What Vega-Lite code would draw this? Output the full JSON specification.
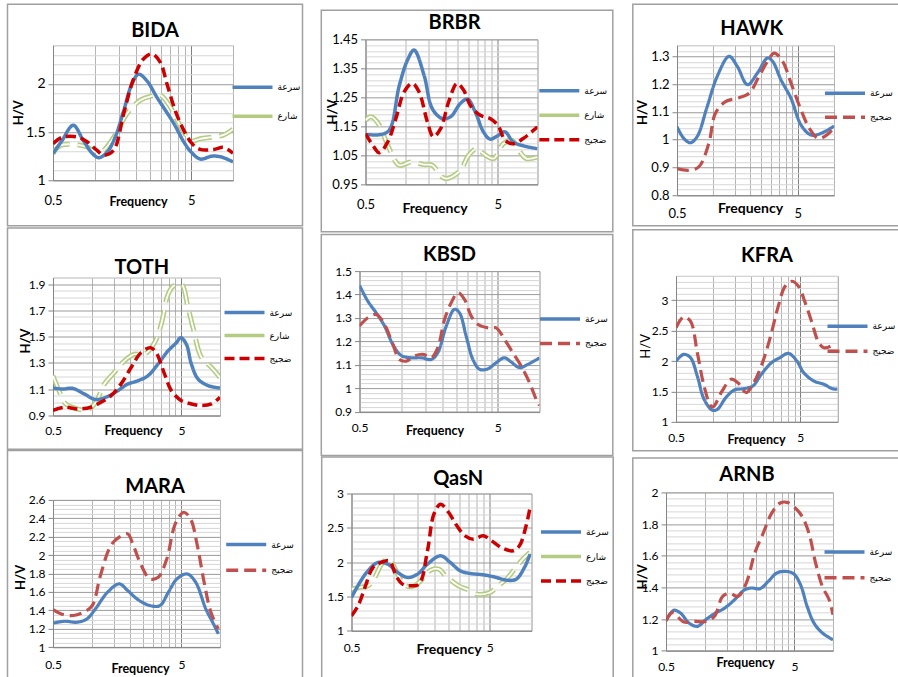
{
"$schema":"https://vega.github.io/schema/vega-lite/v6.json",
"padding":{"left":7,"top":3,"right":0,"bottom":0},
"config":{
 "font":"Lato",
 "view":{"stroke":"#c0c0c0"},
 "axis":{"domainColor":"#868686","labelFont":"Lato","labelFontSize":12,"labelColor":"#000000","titleFont":"Lato","titleFontSize":13,"titleFontWeight":"bold","titleColor":"#000000"},
 "title":{"font":"Lato","fontSize":20,"fontWeight":"bold","color":"#000000","frame":"group","anchor":"middle"},
 "legend":{"symbolType":"stroke","symbolSize":1600,"symbolStrokeWidth":3.5,"labelFont":"DejaVu Sans","labelFontSize":9,"labelColor":"#000000","labelOffset":3,"padding":0,"orient":"none","clipHeight":12,"gradientVerticalMaxLength":2000,"gradientVerticalMinLength":10}
},
"datasets":{
"BIDA":[
{"s":"سرعة","f":0.5,"hv":1.276},{"s":"سرعة","f":0.58,"hv":1.41},{"s":"سرعة","f":0.7,"hv":1.57},{"s":"سرعة","f":0.83,"hv":1.41},{"s":"سرعة","f":0.96,"hv":1.28},{"s":"سرعة","f":1.07,"hv":1.234},{"s":"سرعة","f":1.23,"hv":1.29},{"s":"سرعة","f":1.41,"hv":1.45},{"s":"سرعة","f":1.62,"hv":1.72},{"s":"سرعة","f":1.86,"hv":2.0},{"s":"سرعة","f":2.08,"hv":2.1},{"s":"سرعة","f":2.39,"hv":2.03},{"s":"سرعة","f":2.82,"hv":1.86},{"s":"سرعة","f":3.73,"hv":1.59},{"s":"سرعة","f":4.4,"hv":1.4},{"s":"سرعة","f":5,"hv":1.29},{"s":"سرعة","f":5.8,"hv":1.22},{"s":"سرعة","f":7.05,"hv":1.25},{"s":"سرعة","f":8.3,"hv":1.24},{"s":"سرعة","f":10,"hv":1.19},
{"s":"ضجيج","f":0.5,"hv":1.38},{"s":"ضجيج","f":0.58,"hv":1.445},{"s":"ضجيج","f":0.745,"hv":1.45},{"s":"ضجيج","f":0.88,"hv":1.4},{"s":"ضجيج","f":1.04,"hv":1.31},{"s":"ضجيج","f":1.16,"hv":1.26},{"s":"ضجيج","f":1.37,"hv":1.31},{"s":"ضجيج","f":1.62,"hv":1.69},{"s":"ضجيج","f":1.91,"hv":2.05},{"s":"ضجيج","f":2.26,"hv":2.26},{"s":"ضجيج","f":2.6,"hv":2.31},{"s":"ضجيج","f":2.99,"hv":2.22},{"s":"ضجيج","f":3.33,"hv":2.0},{"s":"ضجيج","f":3.83,"hv":1.72},{"s":"ضجيج","f":4.4,"hv":1.52},{"s":"ضجيج","f":5.06,"hv":1.38},{"s":"ضجيج","f":5.8,"hv":1.32},{"s":"ضجيج","f":7.25,"hv":1.32},{"s":"ضجيج","f":8.57,"hv":1.34},{"s":"ضجيج","f":10,"hv":1.28},
{"s":"شارع","f":0.5,"hv":1.28},{"s":"شارع","f":0.565,"hv":1.36},{"s":"شارع","f":0.72,"hv":1.37},{"s":"شارع","f":0.88,"hv":1.345},{"s":"شارع","f":1.04,"hv":1.29},{"s":"شارع","f":1.16,"hv":1.31},{"s":"شارع","f":1.45,"hv":1.5},{"s":"شارع","f":1.71,"hv":1.69},{"s":"شارع","f":2.14,"hv":1.83},{"s":"شارع","f":2.53,"hv":1.87},{"s":"شارع","f":3.0,"hv":1.88},{"s":"شارع","f":3.52,"hv":1.76},{"s":"شارع","f":4.28,"hv":1.53},{"s":"شارع","f":5,"hv":1.41},{"s":"شارع","f":5.8,"hv":1.43},{"s":"شارع","f":7.25,"hv":1.45},{"s":"شارع","f":8.57,"hv":1.47},{"s":"شارع","f":10,"hv":1.53}
],
"BRBR":[
{"s":"سرعة","f":0.5,"hv":1.122},{"s":"سرعة","f":0.655,"hv":1.122},{"s":"سرعة","f":0.757,"hv":1.137},{"s":"سرعة","f":0.9,"hv":1.29},{"s":"سرعة","f":1.04,"hv":1.379},{"s":"سرعة","f":1.165,"hv":1.413},{"s":"سرعة","f":1.385,"hv":1.327},{"s":"سرعة","f":1.6,"hv":1.211},{"s":"سرعة","f":1.9,"hv":1.177},{"s":"سرعة","f":2.2,"hv":1.183},{"s":"سرعة","f":2.61,"hv":1.229},{"s":"سرعة","f":2.96,"hv":1.244},{"s":"سرعة","f":3.38,"hv":1.2},{"s":"سرعة","f":3.9,"hv":1.131},{"s":"سرعة","f":4.38,"hv":1.106},{"s":"سرعة","f":5.05,"hv":1.119},{"s":"سرعة","f":5.67,"hv":1.131},{"s":"سرعة","f":6.55,"hv":1.096},{"s":"سرعة","f":7.79,"hv":1.083},{"s":"سرعة","f":10,"hv":1.073},
{"s":"ضجيج","f":0.5,"hv":1.125},{"s":"ضجيج","f":0.567,"hv":1.085},{"s":"ضجيج","f":0.637,"hv":1.059},{"s":"ضجيج","f":0.736,"hv":1.096},{"s":"ضجيج","f":0.849,"hv":1.177},{"s":"ضجيج","f":0.98,"hv":1.269},{"s":"ضجيج","f":1.13,"hv":1.298},{"s":"ضجيج","f":1.27,"hv":1.269},{"s":"ضجيج","f":1.47,"hv":1.165},{"s":"ضجيج","f":1.63,"hv":1.114},{"s":"ضجيج","f":1.85,"hv":1.142},{"s":"ضجيج","f":2.13,"hv":1.235},{"s":"ضجيج","f":2.46,"hv":1.298},{"s":"ضجيج","f":2.76,"hv":1.275},{"s":"ضجيج","f":3.1,"hv":1.223},{"s":"ضجيج","f":3.69,"hv":1.188},{"s":"ضجيج","f":4.38,"hv":1.177},{"s":"ضجيج","f":5.05,"hv":1.152},{"s":"ضجيج","f":5.67,"hv":1.102},{"s":"ضجيج","f":6.55,"hv":1.09},{"s":"ضجيج","f":7.79,"hv":1.108},{"s":"ضجيج","f":10,"hv":1.148},
{"s":"شارع","f":0.5,"hv":1.171},{"s":"شارع","f":0.552,"hv":1.183},{"s":"شارع","f":0.637,"hv":1.154},{"s":"شارع","f":0.736,"hv":1.085},{"s":"شارع","f":0.9,"hv":1.016},{"s":"شارع","f":1.1,"hv":1.027},{"s":"شارع","f":1.385,"hv":1.018},{"s":"شارع","f":1.6,"hv":1.016},{"s":"شارع","f":1.9,"hv":0.975},{"s":"شارع","f":2.07,"hv":0.97},{"s":"شارع","f":2.61,"hv":0.998},{"s":"شارع","f":3.01,"hv":1.05},{"s":"شارع","f":3.48,"hv":1.073},{"s":"شارع","f":3.9,"hv":1.056},{"s":"شارع","f":4.65,"hv":1.039},{"s":"شارع","f":5.51,"hv":1.09},{"s":"شارع","f":6.37,"hv":1.102},{"s":"شارع","f":7.35,"hv":1.062},{"s":"شارع","f":8.25,"hv":1.039},{"s":"شارع","f":10,"hv":1.044}
],
"HAWK":[
{"s":"سرعة","f":0.5,"hv":1.047},{"s":"سرعة","f":0.568,"hv":1.005},{"s":"سرعة","f":0.645,"hv":0.989},{"s":"سرعة","f":0.734,"hv":1.011},{"s":"سرعة","f":0.889,"hv":1.119},{"s":"سرعة","f":1.077,"hv":1.228},{"s":"سرعة","f":1.35,"hv":1.3},{"s":"سرعة","f":1.58,"hv":1.264},{"s":"سرعة","f":1.92,"hv":1.198},{"s":"سرعة","f":2.32,"hv":1.24},{"s":"سرعة","f":2.81,"hv":1.294},{"s":"سرعة","f":3.1,"hv":1.282},{"s":"سرعة","f":3.63,"hv":1.216},{"s":"سرعة","f":4.4,"hv":1.149},{"s":"سرعة","f":5.33,"hv":1.053},{"s":"سرعة","f":6.45,"hv":1.017},{"s":"سرعة","f":7.82,"hv":1.023},{"s":"سرعة","f":10,"hv":1.049},
{"s":"ضجيج","f":0.5,"hv":0.896},{"s":"ضجيج","f":0.625,"hv":0.89},{"s":"ضجيج","f":0.757,"hv":0.902},{"s":"ضجيج","f":0.918,"hv":0.987},{"s":"ضجيج","f":1.04,"hv":1.095},{"s":"ضجيج","f":1.26,"hv":1.137},{"s":"ضجيج","f":1.58,"hv":1.149},{"s":"ضجيج","f":1.98,"hv":1.167},{"s":"ضجيج","f":2.39,"hv":1.228},{"s":"ضجيج","f":2.81,"hv":1.282},{"s":"ضجيج","f":3.2,"hv":1.312},{"s":"ضجيج","f":3.75,"hv":1.282},{"s":"ضجيج","f":4.4,"hv":1.204},{"s":"ضجيج","f":5.33,"hv":1.107},{"s":"ضجيج","f":6.25,"hv":1.041},{"s":"ضجيج","f":7.34,"hv":1.005},{"s":"ضجيج","f":8.34,"hv":1.011},{"s":"ضجيج","f":9.79,"hv":1.037}
],
"TOTH":[
{"s":"سرعة","f":0.5,"hv":1.109},{"s":"سرعة","f":0.592,"hv":1.101},{"s":"سرعة","f":0.708,"hv":1.107},{"s":"سرعة","f":0.875,"hv":1.064},{"s":"سرعة","f":1.08,"hv":1.021},{"s":"سرعة","f":1.33,"hv":1.044},{"s":"سرعة","f":1.6,"hv":1.089},{"s":"سرعة","f":1.91,"hv":1.139},{"s":"سرعة","f":2.29,"hv":1.164},{"s":"سرعة","f":2.74,"hv":1.202},{"s":"سرعة","f":3.28,"hv":1.29},{"s":"سرعة","f":3.93,"hv":1.391},{"s":"سرعة","f":4.57,"hv":1.454},{"s":"سرعة","f":4.95,"hv":1.492},{"s":"سرعة","f":5.47,"hv":1.442},{"s":"سرعة","f":5.99,"hv":1.29},{"s":"سرعة","f":6.75,"hv":1.177},{"s":"سرعة","f":8.09,"hv":1.127},{"s":"سرعة","f":10,"hv":1.109},
{"s":"ضجيج","f":0.5,"hv":0.938},{"s":"ضجيج","f":0.61,"hv":0.963},{"s":"ضجيج","f":0.775,"hv":0.95},{"s":"ضجيج","f":0.986,"hv":0.963},{"s":"ضجيج","f":1.18,"hv":1.001},{"s":"ضجيج","f":1.415,"hv":1.051},{"s":"ضجيج","f":1.69,"hv":1.139},{"s":"ضجيج","f":2.03,"hv":1.265},{"s":"ضجيج","f":2.43,"hv":1.379},{"s":"ضجيج","f":2.88,"hv":1.416},{"s":"ضجيج","f":3.18,"hv":1.379},{"s":"ضجيج","f":3.7,"hv":1.215},{"s":"ضجيج","f":4.18,"hv":1.089},{"s":"ضجيج","f":5,"hv":1.013},{"s":"ضجيج","f":5.99,"hv":0.988},{"s":"ضجيج","f":7.17,"hv":0.976},{"s":"ضجيج","f":8.59,"hv":0.988},{"s":"ضجيج","f":10,"hv":1.039},
{"s":"شارع","f":0.5,"hv":1.202},{"s":"شارع","f":0.557,"hv":1.089},{"s":"شارع","f":0.628,"hv":0.988},{"s":"شارع","f":0.775,"hv":0.95},{"s":"شارع","f":0.929,"hv":0.943},{"s":"شارع","f":1.08,"hv":1.001},{"s":"شارع","f":1.255,"hv":1.139},{"s":"شارع","f":1.5,"hv":1.227},{"s":"شارع","f":1.8,"hv":1.316},{"s":"شارع","f":2.15,"hv":1.366},{"s":"شارع","f":2.58,"hv":1.366},{"s":"شارع","f":3.09,"hv":1.454},{"s":"شارع","f":3.48,"hv":1.593},{"s":"شارع","f":3.93,"hv":1.819},{"s":"شارع","f":4.3,"hv":1.882},{"s":"شارع","f":5,"hv":1.9},{"s":"شارع","f":5.64,"hv":1.719},{"s":"شارع","f":6.17,"hv":1.567},{"s":"شارع","f":7.17,"hv":1.341},{"s":"شارع","f":8.59,"hv":1.265},{"s":"شارع","f":10,"hv":1.19}
],
"KBSD":[
{"s":"سرعة","f":0.5,"hv":1.439},{"s":"سرعة","f":0.574,"hv":1.372},{"s":"سرعة","f":0.66,"hv":1.322},{"s":"سرعة","f":0.758,"hv":1.266},{"s":"سرعة","f":0.871,"hv":1.187},{"s":"سرعة","f":1.0,"hv":1.14},{"s":"سرعة","f":1.18,"hv":1.13},{"s":"سرعة","f":1.397,"hv":1.13},{"s":"سرعة","f":1.65,"hv":1.123},{"s":"سرعة","f":1.84,"hv":1.152},{"s":"سرعة","f":2.12,"hv":1.266},{"s":"سرعة","f":2.43,"hv":1.337},{"s":"سرعة","f":2.64,"hv":1.322},{"s":"سرعة","f":2.95,"hv":1.223},{"s":"سرعة","f":3.3,"hv":1.123},{"s":"سرعة","f":3.69,"hv":1.081},{"s":"سرعة","f":4.24,"hv":1.083},{"s":"سرعة","f":4.86,"hv":1.109},{"s":"سرعة","f":5.58,"hv":1.13},{"s":"سرعة","f":6.24,"hv":1.112},{"s":"سرعة","f":7.17,"hv":1.088},{"s":"سرعة","f":8.24,"hv":1.102},{"s":"سرعة","f":10,"hv":1.13},
{"s":"ضجيج","f":0.5,"hv":1.266},{"s":"ضجيج","f":0.574,"hv":1.301},{"s":"ضجيج","f":0.66,"hv":1.315},{"s":"ضجيج","f":0.758,"hv":1.273},{"s":"ضجيج","f":0.871,"hv":1.187},{"s":"ضجيج","f":0.972,"hv":1.123},{"s":"ضجيج","f":1.09,"hv":1.116},{"s":"ضجيج","f":1.25,"hv":1.138},{"s":"ضجيج","f":1.44,"hv":1.145},{"s":"ضجيج","f":1.65,"hv":1.13},{"s":"ضجيج","f":1.84,"hv":1.173},{"s":"ضجيج","f":2.06,"hv":1.294},{"s":"ضجيج","f":2.3,"hv":1.365},{"s":"ضجيج","f":2.57,"hv":1.408},{"s":"ضجيج","f":2.87,"hv":1.379},{"s":"ضجيج","f":3.21,"hv":1.308},{"s":"ضجيج","f":3.58,"hv":1.273},{"s":"ضجيج","f":4.24,"hv":1.258},{"s":"ضجيج","f":4.86,"hv":1.258},{"s":"ضجيج","f":5.58,"hv":1.209},{"s":"ضجيج","f":6.41,"hv":1.152},{"s":"ضجيج","f":7.37,"hv":1.095},{"s":"ضجيج","f":8.47,"hv":1.024},{"s":"ضجيج","f":9.46,"hv":0.953},{"s":"ضجيج","f":10,"hv":0.927}
],
"KFRA":[
{"s":"سرعة","f":0.5,"hv":2.0},{"s":"سرعة","f":0.577,"hv":2.109},{"s":"سرعة","f":0.654,"hv":2.055},{"s":"سرعة","f":0.742,"hv":1.754},{"s":"سرعة","f":0.841,"hv":1.372},{"s":"سرعة","f":0.983,"hv":1.191},{"s":"سرعة","f":1.08,"hv":1.208},{"s":"سرعة","f":1.26,"hv":1.399},{"s":"سرعة","f":1.48,"hv":1.525},{"s":"سرعة","f":1.78,"hv":1.546},{"s":"سرعة","f":2.08,"hv":1.59},{"s":"سرعة","f":2.43,"hv":1.781},{"s":"سرعة","f":2.94,"hv":1.973},{"s":"سرعة","f":3.43,"hv":2.055},{"s":"سرعة","f":4.02,"hv":2.126},{"s":"سرعة","f":4.7,"hv":2.0},{"s":"سرعة","f":5.33,"hv":1.809},{"s":"سرعة","f":6.42,"hv":1.672},{"s":"سرعة","f":7.75,"hv":1.617},{"s":"سرعة","f":9.06,"hv":1.546},{"s":"سرعة","f":10,"hv":1.536},
{"s":"ضجيج","f":0.5,"hv":2.546},{"s":"ضجيج","f":0.577,"hv":2.727},{"s":"ضجيج","f":0.654,"hv":2.656},{"s":"ضجيج","f":0.742,"hv":2.137},{"s":"ضجيج","f":0.841,"hv":1.59},{"s":"ضجيج","f":0.953,"hv":1.262},{"s":"ضجيج","f":1.0,"hv":1.25},{"s":"ضجيج","f":1.17,"hv":1.5},{"s":"ضجيج","f":1.39,"hv":1.7},{"s":"ضجيج","f":1.57,"hv":1.645},{"s":"ضجيج","f":1.84,"hv":1.481},{"s":"ضجيج","f":2.08,"hv":1.617},{"s":"ضجيج","f":2.43,"hv":1.918},{"s":"ضجيج","f":2.84,"hv":2.355},{"s":"ضجيج","f":3.33,"hv":2.902},{"s":"ضجيج","f":3.78,"hv":3.23},{"s":"ضجيج","f":4.28,"hv":3.311},{"s":"ضجيج","f":4.84,"hv":3.23},{"s":"ضجيج","f":5.49,"hv":2.956},{"s":"ضجيج","f":6.22,"hv":2.628},{"s":"ضجيج","f":7.05,"hv":2.3},{"s":"ضجيج","f":7.75,"hv":2.219},{"s":"ضجيج","f":8.79,"hv":2.246},{"s":"ضجيج","f":9.35,"hv":2.3}
],
"MARA":[
{"s":"سرعة","f":0.5,"hv":1.261},{"s":"سرعة","f":0.619,"hv":1.282},{"s":"سرعة","f":0.766,"hv":1.271},{"s":"سرعة","f":0.92,"hv":1.308},{"s":"سرعة","f":1.07,"hv":1.416},{"s":"سرعة","f":1.33,"hv":1.597},{"s":"سرعة","f":1.64,"hv":1.688},{"s":"سرعة","f":1.91,"hv":1.615},{"s":"سرعة","f":2.29,"hv":1.518},{"s":"سرعة","f":2.84,"hv":1.452},{"s":"سرعة","f":3.4,"hv":1.452},{"s":"سرعة","f":3.96,"hv":1.597},{"s":"سرعة","f":4.62,"hv":1.742},{"s":"سرعة","f":5.54,"hv":1.796},{"s":"سرعة","f":6.46,"hv":1.706},{"s":"سرعة","f":7.75,"hv":1.416},{"s":"سرعة","f":8.76,"hv":1.271},{"s":"سرعة","f":9.71,"hv":1.145},
{"s":"ضجيج","f":0.5,"hv":1.409},{"s":"ضجيج","f":0.6,"hv":1.355},{"s":"ضجيج","f":0.72,"hv":1.344},{"s":"ضجيج","f":0.865,"hv":1.38},{"s":"ضجيج","f":1.01,"hv":1.452},{"s":"ضجيج","f":1.17,"hv":1.778},{"s":"ضجيج","f":1.41,"hv":2.104},{"s":"ضجيج","f":1.64,"hv":2.195},{"s":"ضجيج","f":1.91,"hv":2.231},{"s":"ضجيج","f":2.09,"hv":2.122},{"s":"ضجيج","f":2.44,"hv":1.887},{"s":"ضجيج","f":2.84,"hv":1.742},{"s":"ضجيج","f":3.3,"hv":1.76},{"s":"ضجيج","f":3.85,"hv":1.959},{"s":"ضجيج","f":4.48,"hv":2.339},{"s":"ضجيج","f":5.22,"hv":2.466},{"s":"ضجيج","f":5.89,"hv":2.394},{"s":"ضجيج","f":6.66,"hv":2.104},{"s":"ضجيج","f":7.52,"hv":1.706},{"s":"ضجيج","f":8.49,"hv":1.38},{"s":"ضجيج","f":9.71,"hv":1.199}
],
"QasN":[
{"s":"سرعة","f":0.5,"hv":1.485},{"s":"سرعة","f":0.574,"hv":1.704},{"s":"سرعة","f":0.658,"hv":1.874},{"s":"سرعة","f":0.775,"hv":1.995},{"s":"سرعة","f":0.914,"hv":1.971},{"s":"سرعة","f":1.08,"hv":1.85},{"s":"سرعة","f":1.27,"hv":1.777},{"s":"سرعة","f":1.5,"hv":1.825},{"s":"سرعة","f":1.77,"hv":1.971},{"s":"سرعة","f":2.2,"hv":2.092},{"s":"سرعة","f":2.59,"hv":1.995},{"s":"سرعة","f":3.05,"hv":1.874},{"s":"سرعة","f":3.6,"hv":1.835},{"s":"سرعة","f":4.48,"hv":1.816},{"s":"سرعة","f":5.58,"hv":1.777},{"s":"سرعة","f":6.58,"hv":1.738},{"s":"سرعة","f":7.75,"hv":1.752},{"s":"سرعة","f":8.89,"hv":1.922},{"s":"سرعة","f":9.76,"hv":2.117},
{"s":"ضجيج","f":0.5,"hv":1.218},{"s":"ضجيج","f":0.558,"hv":1.364},{"s":"ضجيج","f":0.63,"hv":1.65},{"s":"ضجيج","f":0.714,"hv":1.922},{"s":"ضجيج","f":0.819,"hv":1.995},{"s":"ضجيج","f":0.939,"hv":2.019},{"s":"ضجيج","f":1.05,"hv":1.8},{"s":"ضجيج","f":1.17,"hv":1.68},{"s":"ضجيج","f":1.34,"hv":1.655},{"s":"ضجيج","f":1.54,"hv":1.68},{"s":"ضجيج","f":1.77,"hv":2.165},{"s":"ضجيج","f":1.97,"hv":2.699},{"s":"ضجيج","f":2.2,"hv":2.845},{"s":"ضجيج","f":2.52,"hv":2.723},{"s":"ضجيج","f":2.89,"hv":2.529},{"s":"ضجيج","f":3.31,"hv":2.383},{"s":"ضجيج","f":3.8,"hv":2.335},{"s":"ضجيج","f":4.48,"hv":2.383},{"s":"ضجيج","f":5.14,"hv":2.311},{"s":"ضجيج","f":6.05,"hv":2.214},{"s":"ضجيج","f":7.34,"hv":2.165},{"s":"ضجيج","f":8.18,"hv":2.238},{"s":"ضجيج","f":9.14,"hv":2.529},{"s":"ضجيج","f":9.76,"hv":2.796},
{"s":"شارع","f":0.5,"hv":1.607},{"s":"شارع","f":0.558,"hv":1.631},{"s":"شارع","f":0.658,"hv":1.655},{"s":"شارع","f":0.714,"hv":1.728},{"s":"شارع","f":0.84,"hv":1.995},{"s":"شارع","f":0.914,"hv":2.044},{"s":"شارع","f":0.99,"hv":1.971},{"s":"شارع","f":1.11,"hv":1.777},{"s":"شارع","f":1.23,"hv":1.655},{"s":"شارع","f":1.42,"hv":1.655},{"s":"شارع","f":1.58,"hv":1.728},{"s":"شارع","f":1.86,"hv":1.883},{"s":"شارع","f":2.14,"hv":1.898},{"s":"شارع","f":2.39,"hv":1.801},{"s":"شارع","f":2.97,"hv":1.655},{"s":"شارع","f":3.4,"hv":1.607},{"s":"شارع","f":4.02,"hv":1.534},{"s":"شارع","f":5,"hv":1.558},{"s":"شارع","f":5.74,"hv":1.655},{"s":"شارع","f":6.58,"hv":1.752},{"s":"شارع","f":7.55,"hv":1.898},{"s":"شارع","f":8.65,"hv":2.044},{"s":"شارع","f":9.76,"hv":2.141}
],
"ARNB":[
{"s":"سرعة","f":0.5,"hv":1.189},{"s":"سرعة","f":0.575,"hv":1.255},{"s":"سرعة","f":0.648,"hv":1.238},{"s":"سرعة","f":0.755,"hv":1.175},{"s":"سرعة","f":0.879,"hv":1.154},{"s":"سرعة","f":1.02,"hv":1.196},{"s":"سرعة","f":1.19,"hv":1.234},{"s":"سرعة","f":1.43,"hv":1.269},{"s":"سرعة","f":1.71,"hv":1.322},{"s":"سرعة","f":2.05,"hv":1.385},{"s":"سرعة","f":2.32,"hv":1.396},{"s":"سرعة","f":2.7,"hv":1.392},{"s":"سرعة","f":3.13,"hv":1.438},{"s":"سرعة","f":3.65,"hv":1.491},{"s":"سرعة","f":4.25,"hv":1.501},{"s":"سرعة","f":4.94,"hv":1.486},{"s":"سرعة","f":5.58,"hv":1.417},{"s":"سرعة","f":6.29,"hv":1.28},{"s":"سرعة","f":7.11,"hv":1.175},{"s":"سرعة","f":8.26,"hv":1.112},{"s":"سرعة","f":10,"hv":1.069},
{"s":"ضجيج","f":0.5,"hv":1.189},{"s":"ضجيج","f":0.56,"hv":1.24},{"s":"ضجيج","f":0.69,"hv":1.181},{"s":"ضجيج","f":0.826,"hv":1.185},{"s":"ضجيج","f":1.02,"hv":1.185},{"s":"ضجيج","f":1.19,"hv":1.217},{"s":"ضجيج","f":1.38,"hv":1.343},{"s":"ضجيج","f":1.56,"hv":1.364},{"s":"ضجيج","f":1.82,"hv":1.343},{"s":"ضجيج","f":2.11,"hv":1.427},{"s":"ضجيج","f":2.46,"hv":1.617},{"s":"ضجيج","f":2.86,"hv":1.743},{"s":"ضجيج","f":3.33,"hv":1.869},{"s":"ضجيج","f":3.88,"hv":1.933},{"s":"ضجيج","f":4.38,"hv":1.937},{"s":"ضجيج","f":5.09,"hv":1.901},{"s":"ضجيج","f":5.75,"hv":1.848},{"s":"ضجيج","f":6.49,"hv":1.743},{"s":"ضجيج","f":7.32,"hv":1.554},{"s":"ضجيج","f":8.26,"hv":1.406},{"s":"ضجيج","f":9.33,"hv":1.322},{"s":"ضجيج","f":10,"hv":1.227}
]
},
"resolve":{"scale":{"x":"independent","y":"independent","color":"independent","strokeDash":"independent","fill":"independent"},"legend":{"color":"independent","strokeDash":"independent","fill":"independent"}},
"spacing":-7,
"vconcat":[
{"hconcat":[
 {"width":180,"height":135,"title":{"text":"BIDA","dx":12,"offset":-37},"data":{"name":"BIDA"},
  "encoding":{
   "x":{"field":"f","type":"quantitative","scale":{"type":"log","domain":[0.5,10]},"axis":{"values":[0.5,1,1.5,2,2.5,3,3.5,4,4.5,5,10],"format":".1~f","labelExpr":"datum.value==0.5||datum.value==5?datum.label:''","labelFlush":false,"labelOverlap":false,"labelBaseline":"middle","labelFontSize":13,"ticks":false,"tickSize":0,"labelPadding":20,"gridColor":{"condition":{"test":"datum.value==5","value":"#7f7f7f"},"value":"#b4b4b4"},"title":"Frequency","titleFontSize":12.5,"titleBaseline":"middle","titleAlign":"center","titleX":85,"titleY":21}},
   "y":{"field":"hv","type":"quantitative","scale":{"domain":[1,2.4],"zero":false},"axis":{"values":[1,1.1,1.2,1.3,1.4,1.5,1.6,1.7,1.8,1.9,2,2.1,2.2,2.3,2.4],"format":".1~f","labelExpr":"abs(datum.value*2-round(datum.value*2))<0.001?datum.label:''","labelOverlap":false,"labelFontSize":14,"gridColor":{"condition":{"test":"abs(datum.value*2-round(datum.value*2))<0.001","value":"#9a9a9a"},"value":"#d6d6d6"},"tickColor":{"condition":{"test":"abs(datum.value*2-round(datum.value*2))<0.001","value":"#868686"},"value":"transparent"},"tickSize":5,"labelPadding":3,"title":"H/V","titleBaseline":"middle","titleAlign":"center","titleX":-35,"titleY":67}}
  },
  "layer":[
   {"mark":{"type":"point","opacity":0,"clip":true},"encoding":{"fill":{"field":"hv","type":"quantitative","scale":{"range":["rgba(255,255,255,0)","rgba(255,255,255,0)"]},"legend":{"title":null,"direction":"vertical","gradientLength":221.5,"gradientThickness":295,"gradientStrokeColor":"#a0a0a0","gradientStrokeWidth":1.5,"labelExpr":"''","labelOpacity":0,"labelFontSize":1,"labelOffset":0,"legendX":-45.5,"legendY":-41}}}},
   {"transform":[{"filter":"datum.s=='شارع'"}],"mark":{"type":"line","interpolate":"catmull-rom","strokeWidth":5,"strokeDash":[20,8],"clip":true},
    "encoding":{"color":{"field":"s","type":"nominal","scale":{"domain":["سرعة","شارع","ضجيج"],"range":["#4f81bd","#b3cc82","#cc0000"]},"legend":{"title":null,"values":["سرعة","شارع"],"legendX":177.5,"legendY":36,"rowPadding":17}}}},
   {"transform":[{"filter":"datum.s=='شارع'"}],"mark":{"type":"line","interpolate":"catmull-rom","strokeWidth":1.8,"strokeDash":[20,8],"color":"#ffffff","clip":true}},
   {"transform":[{"filter":"datum.s!='شارع'"}],"mark":{"type":"line","interpolate":"catmull-rom","strokeWidth":3.5,"clip":true},
    "encoding":{"color":{"field":"s","type":"nominal","scale":{"domain":["سرعة","شارع","ضجيج"],"range":["#4f81bd","#b3cc82","#cc0000"]},"legend":{"title":null,"values":["سرعة","شارع"],"legendX":177.5,"legendY":36,"rowPadding":17}},
     "strokeDash":{"field":"s","type":"nominal","scale":{"domain":["سرعة","شارع","ضجيج"],"range":[[1,0],[1,0],[10,5]]},"legend":{"title":null,"values":["سرعة","شارع"],"legendX":177.5,"legendY":36,"rowPadding":17}}}}
  ]},
 {"width":172,"height":145,"title":{"text":"BRBR","dx":3,"offset":-22.5},"data":{"name":"BRBR"},
  "encoding":{
   "x":{"field":"f","type":"quantitative","scale":{"type":"log","domain":[0.5,10]},"axis":{"values":[0.5,1,1.5,2,2.5,3,3.5,4,4.5,5,10],"format":".1~f","labelExpr":"datum.value==0.5||datum.value==5?datum.label:''","labelFlush":false,"labelOverlap":false,"labelBaseline":"middle","labelFontSize":13,"ticks":false,"tickSize":0,"labelPadding":20,"gridColor":{"condition":{"test":"datum.value==5","value":"#7f7f7f"},"value":"#b4b4b4"},"title":"Frequency","titleFontSize":14,"titleBaseline":"middle","titleAlign":"center","titleX":69,"titleY":24}},
   "y":{"field":"hv","type":"quantitative","scale":{"domain":[0.95,1.45],"zero":false},"axis":{"values":[0.95,0.97,0.99,1.01,1.03,1.05,1.07,1.09,1.11,1.13,1.15,1.17,1.19,1.21,1.23,1.25,1.27,1.29,1.31,1.33,1.35,1.37,1.39,1.41,1.43,1.45],"format":".2~f","labelExpr":"abs((datum.value-0.95)*10-round((datum.value-0.95)*10))<0.001?datum.label:''","labelOverlap":false,"labelFontSize":13,"gridColor":{"condition":{"test":"abs((datum.value-0.95)*10-round((datum.value-0.95)*10))<0.001","value":"#9a9a9a"},"value":"#d6d6d6"},"tickColor":{"condition":{"test":"abs((datum.value-0.95)*10-round((datum.value-0.95)*10))<0.001","value":"#868686"},"value":"transparent"},"tickSize":5,"labelPadding":3,"title":"H/V","titleBaseline":"middle","titleAlign":"center","titleX":-32.7,"titleY":72}}
  },
  "layer":[
   {"mark":{"type":"point","opacity":0,"clip":true},"encoding":{"fill":{"field":"hv","type":"quantitative","scale":{"range":["rgba(255,255,255,0)","rgba(255,255,255,0)"]},"legend":{"title":null,"direction":"vertical","gradientLength":221.5,"gradientThickness":291.5,"gradientStrokeColor":"#a0a0a0","gradientStrokeWidth":1.5,"labelExpr":"''","labelOpacity":0,"labelFontSize":1,"labelOffset":0,"legendX":-44.2,"legendY":-29.2}}}},
   {"transform":[{"filter":"datum.s=='شارع'"}],"mark":{"type":"line","interpolate":"catmull-rom","strokeWidth":5,"strokeDash":[20,8],"clip":true},
    "encoding":{"color":{"field":"s","type":"nominal","scale":{"domain":["سرعة","شارع","ضجيج"],"range":["#4f81bd","#b3cc82","#cc0000"]},"legend":{"title":null,"legendX":171.8,"legendY":45.3,"rowPadding":12.5}}}},
   {"transform":[{"filter":"datum.s=='شارع'"}],"mark":{"type":"line","interpolate":"catmull-rom","strokeWidth":1.8,"strokeDash":[20,8],"color":"#ffffff","clip":true}},
   {"transform":[{"filter":"datum.s!='شارع'"}],"mark":{"type":"line","interpolate":"catmull-rom","strokeWidth":3.5,"clip":true},
    "encoding":{"color":{"field":"s","type":"nominal","scale":{"domain":["سرعة","شارع","ضجيج"],"range":["#4f81bd","#b3cc82","#cc0000"]},"legend":{"title":null,"legendX":171.8,"legendY":45.3,"rowPadding":12.5}},
     "strokeDash":{"field":"s","type":"nominal","scale":{"domain":["سرعة","شارع","ضجيج"],"range":[[1,0],[1,0],[10,5]]},"legend":{"title":null,"legendX":171.8,"legendY":45.3,"rowPadding":12.5}}}}
  ]},
 {"width":157,"height":150,"title":{"text":"HAWK","dx":-3.7,"offset":-35},"data":{"name":"HAWK"},
  "encoding":{
   "x":{"field":"f","type":"quantitative","scale":{"type":"log","domain":[0.5,10]},"axis":{"values":[0.5,1,1.5,2,2.5,3,3.5,4,4.5,5,10],"format":".1~f","labelExpr":"datum.value==0.5||datum.value==5?datum.label:''","labelFlush":false,"labelOverlap":false,"labelBaseline":"middle","labelFontSize":13,"ticks":false,"tickSize":0,"labelPadding":18,"gridColor":{"condition":{"test":"datum.value==5","value":"#7f7f7f"},"value":"#b4b4b4"},"title":"Frequency","titleFontSize":14,"titleBaseline":"middle","titleAlign":"center","titleX":73,"titleY":13}},
   "y":{"field":"hv","type":"quantitative","scale":{"domain":[0.8,1.34],"zero":false},"axis":{"values":[0.8,0.82,0.84,0.86,0.88,0.9,0.92,0.94,0.96,0.98,1,1.02,1.04,1.06,1.08,1.1,1.12,1.14,1.16,1.18,1.2,1.22,1.24,1.26,1.28,1.3,1.32,1.34],"format":".1~f","labelExpr":"abs(datum.value*10-round(datum.value*10))<0.001?datum.label:''","labelOverlap":false,"labelFontSize":13,"gridColor":{"condition":{"test":"abs(datum.value*10-round(datum.value*10))<0.001","value":"#9a9a9a"},"value":"#d6d6d6"},"tickColor":{"condition":{"test":"abs(datum.value*10-round(datum.value*10))<0.001","value":"#868686"},"value":"transparent"},"tickSize":5,"labelPadding":3,"title":"H/V","titleBaseline":"middle","titleAlign":"center","titleX":-35,"titleY":66.7}}
  },
  "layer":[
   {"mark":{"type":"point","opacity":0,"clip":true},"encoding":{"fill":{"field":"hv","type":"quantitative","scale":{"range":["rgba(255,255,255,0)","rgba(255,255,255,0)"]},"legend":{"title":null,"direction":"vertical","gradientLength":221.5,"gradientThickness":280,"gradientStrokeColor":"#a0a0a0","gradientStrokeWidth":1.5,"labelExpr":"''","labelOpacity":0,"labelFontSize":1,"labelOffset":0,"legendX":-44.2,"legendY":-41}}}},
   {"mark":{"type":"line","interpolate":"catmull-rom","strokeWidth":3.2,"clip":true},
    "encoding":{"color":{"field":"s","type":"nominal","scale":{"domain":["سرعة","ضجيج"],"range":["#4f81bd","#c0504d"]},"legend":{"title":null,"legendX":146,"legendY":42,"rowPadding":12}},
     "strokeDash":{"field":"s","type":"nominal","scale":{"domain":["سرعة","ضجيج"],"range":[[1,0],[12,6]]},"legend":{"title":null,"legendX":146,"legendY":42,"rowPadding":12}}}}
  ]}
],"spacing":16.5,"bounds":"full","center":true,"resolve":{"scale":{"x":"independent","y":"independent","color":"independent","strokeDash":"independent","fill":"independent"},"legend":{"color":"independent","strokeDash":"independent","fill":"independent"}}},
{"hconcat":[
 {"width":167,"height":138,"title":{"text":"TOTH","dx":5.3,"offset":-49.5},"data":{"name":"TOTH"},
  "encoding":{
   "x":{"field":"f","type":"quantitative","scale":{"type":"log","domain":[0.5,10]},"axis":{"values":[0.5,1,1.5,2,2.5,3,3.5,4,4.5,5,10],"format":".1~f","labelExpr":"datum.value==0.5||datum.value==5?datum.label:''","labelFlush":false,"labelOverlap":false,"labelBaseline":"middle","ticks":false,"tickSize":0,"labelPadding":15,"gridColor":{"condition":{"test":"datum.value==5","value":"#7f7f7f"},"value":"#b4b4b4"},"title":"Frequency","titleFontSize":12.5,"titleBaseline":"middle","titleAlign":"center","titleX":80,"titleY":15}},
   "y":{"field":"hv","type":"quantitative","scale":{"domain":[0.9,1.95],"zero":false},"axis":{"values":[0.9,0.95,1,1.05,1.1,1.15,1.2,1.25,1.3,1.35,1.4,1.45,1.5,1.55,1.6,1.65,1.7,1.75,1.8,1.85,1.9,1.95],"format":".1~f","labelExpr":"abs((datum.value-0.9)*5-round((datum.value-0.9)*5))<0.001?datum.label:''","labelOverlap":false,"gridColor":{"condition":{"test":"abs((datum.value-0.9)*5-round((datum.value-0.9)*5))<0.001","value":"#9a9a9a"},"value":"#d6d6d6"},"tickColor":{"condition":{"test":"abs((datum.value-0.9)*5-round((datum.value-0.9)*5))<0.001","value":"#868686"},"value":"transparent"},"tickSize":5,"labelPadding":3,"title":"H/V","titleBaseline":"middle","titleAlign":"center","titleX":-28,"titleY":63}}
  },
  "layer":[
   {"mark":{"type":"point","opacity":0,"clip":true},"encoding":{"fill":{"field":"hv","type":"quantitative","scale":{"range":["rgba(255,255,255,0)","rgba(255,255,255,0)"]},"legend":{"title":null,"direction":"vertical","gradientLength":221.2,"gradientThickness":295,"gradientStrokeColor":"#a0a0a0","gradientStrokeWidth":1.5,"labelExpr":"''","labelOpacity":0,"labelFontSize":1,"labelOffset":0,"legendX":-45.5,"legendY":-49.5}}}},
   {"transform":[{"filter":"datum.s=='شارع'"}],"mark":{"type":"line","interpolate":"catmull-rom","strokeWidth":5,"strokeDash":[20,8],"clip":true},
    "encoding":{"color":{"field":"s","type":"nominal","scale":{"domain":["سرعة","شارع","ضجيج"],"range":["#4f81bd","#b3cc82","#cc0000"]},"legend":{"title":null,"legendX":169.5,"legendY":29,"rowPadding":11}}}},
   {"transform":[{"filter":"datum.s=='شارع'"}],"mark":{"type":"line","interpolate":"catmull-rom","strokeWidth":1.8,"strokeDash":[20,8],"color":"#ffffff","clip":true}},
   {"transform":[{"filter":"datum.s!='شارع'"}],"mark":{"type":"line","interpolate":"catmull-rom","strokeWidth":3.5,"clip":true},
    "encoding":{"color":{"field":"s","type":"nominal","scale":{"domain":["سرعة","شارع","ضجيج"],"range":["#4f81bd","#b3cc82","#cc0000"]},"legend":{"title":null,"legendX":169.5,"legendY":29,"rowPadding":11}},
     "strokeDash":{"field":"s","type":"nominal","scale":{"domain":["سرعة","شارع","ضجيج"],"range":[[1,0],[1,0],[10,5]]},"legend":{"title":null,"legendX":169.5,"legendY":29,"rowPadding":11}}}}
  ]},
 {"width":180,"height":140.6,"title":{"text":"KBSD","dx":0,"offset":-31},"data":{"name":"KBSD"},
  "encoding":{
   "x":{"field":"f","type":"quantitative","scale":{"type":"log","domain":[0.5,10]},"axis":{"values":[0.5,1,1.5,2,2.5,3,3.5,4,4.5,5,10],"format":".1~f","labelExpr":"datum.value==0.5||datum.value==5?datum.label:''","labelFlush":false,"labelOverlap":false,"labelBaseline":"middle","ticks":false,"tickSize":0,"labelPadding":16,"gridColor":{"condition":{"test":"datum.value==5","value":"#7f7f7f"},"value":"#b4b4b4"},"title":"Frequency","titleFontSize":12.5,"titleBaseline":"middle","titleAlign":"center","titleX":75,"titleY":19}},
   "y":{"field":"hv","type":"quantitative","scale":{"domain":[0.9,1.5],"zero":false},"axis":{"values":[0.9,0.92,0.94,0.96,0.98,1,1.02,1.04,1.06,1.08,1.1,1.12,1.14,1.16,1.18,1.2,1.22,1.24,1.26,1.28,1.3,1.32,1.34,1.36,1.38,1.4,1.42,1.44,1.46,1.48,1.5],"format":".1~f","labelExpr":"abs(datum.value*10-round(datum.value*10))<0.001?datum.label:''","labelOverlap":false,"gridColor":{"condition":{"test":"abs(datum.value*10-round(datum.value*10))<0.001","value":"#9a9a9a"},"value":"#d6d6d6"},"tickColor":{"condition":{"test":"abs(datum.value*10-round(datum.value*10))<0.001","value":"#868686"},"value":"transparent"},"tickSize":5,"labelPadding":3,"title":null}}
  },
  "layer":[
   {"mark":{"type":"point","opacity":0,"clip":true},"encoding":{"fill":{"field":"hv","type":"quantitative","scale":{"range":["rgba(255,255,255,0)","rgba(255,255,255,0)"]},"legend":{"title":null,"direction":"vertical","gradientLength":221.2,"gradientThickness":291.5,"gradientStrokeColor":"#a0a0a0","gradientStrokeWidth":1.5,"labelExpr":"''","labelOpacity":0,"labelFontSize":1,"labelOffset":0,"legendX":-38.2,"legendY":-36.7}}}},
   {"mark":{"type":"line","interpolate":"catmull-rom","strokeWidth":3.2,"clip":true},
    "encoding":{"color":{"field":"s","type":"nominal","scale":{"domain":["سرعة","ضجيج"],"range":["#4f81bd","#c0504d"]},"legend":{"title":null,"legendX":178.5,"legendY":42,"rowPadding":12.3}},
     "strokeDash":{"field":"s","type":"nominal","scale":{"domain":["سرعة","ضجيج"],"range":[[1,0],[12,6]]},"legend":{"title":null,"legendX":178.5,"legendY":42,"rowPadding":12.3}}}}
  ]},
 {"width":161.6,"height":146,"title":{"text":"KFRA","dx":10.2,"offset":-36.5},"data":{"name":"KFRA"},
  "encoding":{
   "x":{"field":"f","type":"quantitative","scale":{"type":"log","domain":[0.5,10]},"axis":{"values":[0.5,1,1.5,2,2.5,3,3.5,4,4.5,5,10],"format":".1~f","labelExpr":"datum.value==0.5||datum.value==5?datum.label:''","labelFlush":false,"labelOverlap":false,"labelBaseline":"middle","ticks":false,"tickSize":0,"labelPadding":16,"gridColor":{"condition":{"test":"datum.value==5","value":"#7f7f7f"},"value":"#b4b4b4"},"title":"Frequency","titleFontSize":12.5,"titleBaseline":"middle","titleAlign":"center","titleX":80,"titleY":18}},
   "y":{"field":"hv","type":"quantitative","scale":{"domain":[1,3.4],"zero":false},"axis":{"values":[1,1.1,1.2,1.3,1.4,1.5,1.6,1.7,1.8,1.9,2,2.1,2.2,2.3,2.4,2.5,2.6,2.7,2.8,2.9,3,3.1,3.2,3.3,3.4],"format":".1~f","labelExpr":"abs(datum.value*2-round(datum.value*2))<0.001?datum.label:''","labelOverlap":false,"gridColor":{"condition":{"test":"abs(datum.value*2-round(datum.value*2))<0.001","value":"#9a9a9a"},"value":"#d6d6d6"},"tickColor":{"condition":{"test":"abs(datum.value*2-round(datum.value*2))<0.001","value":"#868686"},"value":"transparent"},"tickSize":5,"labelPadding":3,"title":"H/V","titleFontWeight":"normal","titleBaseline":"middle","titleAlign":"center","titleX":-30.7,"titleY":70}}
  },
  "layer":[
   {"mark":{"type":"point","opacity":0,"clip":true},"encoding":{"fill":{"field":"hv","type":"quantitative","scale":{"range":["rgba(255,255,255,0)","rgba(255,255,255,0)"]},"legend":{"title":null,"direction":"vertical","gradientLength":221.2,"gradientThickness":280,"gradientStrokeColor":"#a0a0a0","gradientStrokeWidth":1.5,"labelExpr":"''","labelOpacity":0,"labelFontSize":1,"labelOffset":0,"legendX":-43.2,"legendY":-46.2}}}},
   {"mark":{"type":"line","interpolate":"catmull-rom","strokeWidth":3.2,"clip":true},
    "encoding":{"color":{"field":"s","type":"nominal","scale":{"domain":["سرعة","ضجيج"],"range":["#4f81bd","#c0504d"]},"legend":{"title":null,"legendX":149.5,"legendY":44.3,"rowPadding":13}},
     "strokeDash":{"field":"s","type":"nominal","scale":{"domain":["سرعة","ضجيج"],"range":[[1,0],[12,6]]},"legend":{"title":null,"legendX":149.5,"legendY":44.3,"rowPadding":13}}}}
  ]}
],"spacing":16.5,"bounds":"full","center":true,"resolve":{"scale":{"x":"independent","y":"independent","color":"independent","strokeDash":"independent","fill":"independent"},"legend":{"color":"independent","strokeDash":"independent","fill":"independent"}}},
{"hconcat":[
 {"width":167,"height":147.3,"title":{"text":"MARA","dx":18.5,"offset":-46.8},"data":{"name":"MARA"},
  "encoding":{
   "x":{"field":"f","type":"quantitative","scale":{"type":"log","domain":[0.5,10]},"axis":{"values":[0.5,1,1.5,2,2.5,3,3.5,4,4.5,5,10],"format":".1~f","labelExpr":"datum.value==0.5||datum.value==5?datum.label:''","labelFlush":false,"labelOverlap":false,"labelBaseline":"middle","ticks":false,"tickSize":0,"labelPadding":17,"gridColor":{"condition":{"test":"datum.value==5","value":"#7f7f7f"},"value":"#b4b4b4"},"title":"Frequency","titleFontSize":12.5,"titleBaseline":"middle","titleAlign":"center","titleX":87,"titleY":21}},
   "y":{"field":"hv","type":"quantitative","scale":{"domain":[1,2.6],"zero":false},"axis":{"values":[1,1.05,1.1,1.15,1.2,1.25,1.3,1.35,1.4,1.45,1.5,1.55,1.6,1.65,1.7,1.75,1.8,1.85,1.9,1.95,2,2.05,2.1,2.15,2.2,2.25,2.3,2.35,2.4,2.45,2.5,2.55,2.6],"format":".1~f","labelExpr":"abs(datum.value*5-round(datum.value*5))<0.001?datum.label:''","labelOverlap":false,"gridColor":{"condition":{"test":"abs(datum.value*5-round(datum.value*5))<0.001","value":"#9a9a9a"},"value":"#d6d6d6"},"tickColor":{"condition":{"test":"abs(datum.value*5-round(datum.value*5))<0.001","value":"#868686"},"value":"transparent"},"tickSize":5,"labelPadding":3,"title":"H/V","titleBaseline":"middle","titleAlign":"center","titleX":-32.3,"titleY":77}}
  },
  "layer":[
   {"mark":{"type":"point","opacity":0,"clip":true},"encoding":{"fill":{"field":"hv","type":"quantitative","scale":{"range":["rgba(255,255,255,0)","rgba(255,255,255,0)"]},"legend":{"title":null,"direction":"vertical","gradientLength":228,"gradientThickness":295,"gradientStrokeColor":"#a0a0a0","gradientStrokeWidth":1.5,"labelExpr":"''","labelOpacity":0,"labelFontSize":1,"labelOffset":0,"legendX":-45.5,"legendY":-49.3}}}},
   {"mark":{"type":"line","interpolate":"catmull-rom","strokeWidth":3.2,"clip":true},
    "encoding":{"color":{"field":"s","type":"nominal","scale":{"domain":["سرعة","ضجيج"],"range":["#4f81bd","#c0504d"]},"legend":{"title":null,"legendX":171.2,"legendY":38.7,"rowPadding":13.6}},
     "strokeDash":{"field":"s","type":"nominal","scale":{"domain":["سرعة","ضجيج"],"range":[[1,0],[12,6]]},"legend":{"title":null,"legendX":171.2,"legendY":38.7,"rowPadding":13.6}}}}
  ]},
 {"width":180,"height":137.3,"title":{"text":"QasN","dx":16.7,"offset":-31.8},"data":{"name":"QasN"},
  "encoding":{
   "x":{"field":"f","type":"quantitative","scale":{"type":"log","domain":[0.5,10]},"axis":{"values":[0.5,1,1.5,2,2.5,3,3.5,4,4.5,5,10],"format":".1~f","labelExpr":"datum.value==0.5||datum.value==5?datum.label:''","labelFlush":false,"labelOverlap":false,"labelBaseline":"middle","ticks":false,"tickSize":0,"labelPadding":17,"gridColor":{"condition":{"test":"datum.value==5","value":"#7f7f7f"},"value":"#b4b4b4"},"title":"Frequency","titleFontSize":14,"titleBaseline":"middle","titleAlign":"center","titleX":97,"titleY":19}},
   "y":{"field":"hv","type":"quantitative","scale":{"domain":[1,3],"zero":false},"axis":{"values":[1,1.1,1.2,1.3,1.4,1.5,1.6,1.7,1.8,1.9,2,2.1,2.2,2.3,2.4,2.5,2.6,2.7,2.8,2.9,3],"format":".1~f","labelExpr":"abs(datum.value*2-round(datum.value*2))<0.001?datum.label:''","labelOverlap":false,"gridColor":{"condition":{"test":"abs(datum.value*2-round(datum.value*2))<0.001","value":"#9a9a9a"},"value":"#d6d6d6"},"tickColor":{"condition":{"test":"abs(datum.value*2-round(datum.value*2))<0.001","value":"#868686"},"value":"transparent"},"tickSize":5,"labelPadding":3,"title":null}}
  },
  "layer":[
   {"mark":{"type":"point","opacity":0,"clip":true},"encoding":{"fill":{"field":"hv","type":"quantitative","scale":{"range":["rgba(255,255,255,0)","rgba(255,255,255,0)"]},"legend":{"title":null,"direction":"vertical","gradientLength":228,"gradientThickness":291.5,"gradientStrokeColor":"#a0a0a0","gradientStrokeWidth":1.5,"labelExpr":"''","labelOpacity":0,"labelFontSize":1,"labelOffset":0,"legendX":-29.8,"legendY":-36.5}}}},
   {"transform":[{"filter":"datum.s=='شارع'"}],"mark":{"type":"line","interpolate":"catmull-rom","strokeWidth":5,"strokeDash":[20,8],"clip":true},
    "encoding":{"color":{"field":"s","type":"nominal","scale":{"domain":["سرعة","شارع","ضجيج"],"range":["#4f81bd","#b3cc82","#cc0000"]},"legend":{"title":null,"legendX":187.5,"legendY":32.6,"rowPadding":12.5}}}},
   {"transform":[{"filter":"datum.s=='شارع'"}],"mark":{"type":"line","interpolate":"catmull-rom","strokeWidth":1.8,"strokeDash":[20,8],"color":"#ffffff","clip":true}},
   {"transform":[{"filter":"datum.s!='شارع'"}],"mark":{"type":"line","interpolate":"catmull-rom","strokeWidth":3.5,"clip":true},
    "encoding":{"color":{"field":"s","type":"nominal","scale":{"domain":["سرعة","شارع","ضجيج"],"range":["#4f81bd","#b3cc82","#cc0000"]},"legend":{"title":null,"legendX":187.5,"legendY":32.6,"rowPadding":12.5}},
     "strokeDash":{"field":"s","type":"nominal","scale":{"domain":["سرعة","شارع","ضجيج"],"range":[[1,0],[1,0],[10,5]]},"legend":{"title":null,"legendX":187.5,"legendY":32.6,"rowPadding":12.5}}}}
  ]},
 {"width":167,"height":158.3,"title":{"text":"ARNB","dx":-2.5,"offset":-27.3},"data":{"name":"ARNB"},
  "encoding":{
   "x":{"field":"f","type":"quantitative","scale":{"type":"log","domain":[0.5,10]},"axis":{"values":[0.5,1,1.5,2,2.5,3,3.5,4,4.5,5,10],"format":".1~f","labelExpr":"datum.value==0.5||datum.value==5?datum.label:''","labelFlush":false,"labelOverlap":false,"labelBaseline":"middle","ticks":false,"tickSize":0,"labelPadding":16,"gridColor":{"condition":{"test":"datum.value==5","value":"#7f7f7f"},"value":"#b4b4b4"},"title":"Frequency","titleFontSize":12.5,"titleBaseline":"middle","titleAlign":"center","titleX":79,"titleY":12}},
   "y":{"field":"hv","type":"quantitative","scale":{"domain":[1,2],"zero":false},"axis":{"values":[1,1.04,1.08,1.12,1.16,1.2,1.24,1.28,1.32,1.36,1.4,1.44,1.48,1.52,1.56,1.6,1.64,1.68,1.72,1.76,1.8,1.84,1.88,1.92,1.96,2],"format":".1~f","labelExpr":"abs(datum.value*5-round(datum.value*5))<0.001?datum.label:''","labelOverlap":false,"gridColor":{"condition":{"test":"abs(datum.value*5-round(datum.value*5))<0.001","value":"#9a9a9a"},"value":"#d6d6d6"},"tickColor":{"condition":{"test":"abs(datum.value*5-round(datum.value*5))<0.001","value":"#868686"},"value":"transparent"},"tickSize":5,"labelPadding":3,"title":"H/V","titleBaseline":"middle","titleAlign":"center","titleX":-24,"titleY":84}}
  },
  "layer":[
   {"mark":{"type":"point","opacity":0,"clip":true},"encoding":{"fill":{"field":"hv","type":"quantitative","scale":{"range":["rgba(255,255,255,0)","rgba(255,255,255,0)"]},"legend":{"title":null,"direction":"vertical","gradientLength":228,"gradientThickness":280,"gradientStrokeColor":"#a0a0a0","gradientStrokeWidth":1.5,"labelExpr":"''","labelOpacity":0,"labelFontSize":1,"labelOffset":0,"legendX":-33.2,"legendY":-34.3}}}},
   {"mark":{"type":"line","interpolate":"catmull-rom","strokeWidth":3.2,"clip":true},
    "encoding":{"color":{"field":"s","type":"nominal","scale":{"domain":["سرعة","ضجيج"],"range":["#4f81bd","#c0504d"]},"legend":{"title":null,"legendX":156.5,"legendY":53.7,"rowPadding":13.6}},
     "strokeDash":{"field":"s","type":"nominal","scale":{"domain":["سرعة","ضجيج"],"range":[[1,0],[12,6]]},"legend":{"title":null,"legendX":156.5,"legendY":53.7,"rowPadding":13.6}}}}
  ]}
],"spacing":16.5,"bounds":"full","center":true,"resolve":{"scale":{"x":"independent","y":"independent","color":"independent","strokeDash":"independent","fill":"independent"},"legend":{"color":"independent","strokeDash":"independent","fill":"independent"}}}
]
}
